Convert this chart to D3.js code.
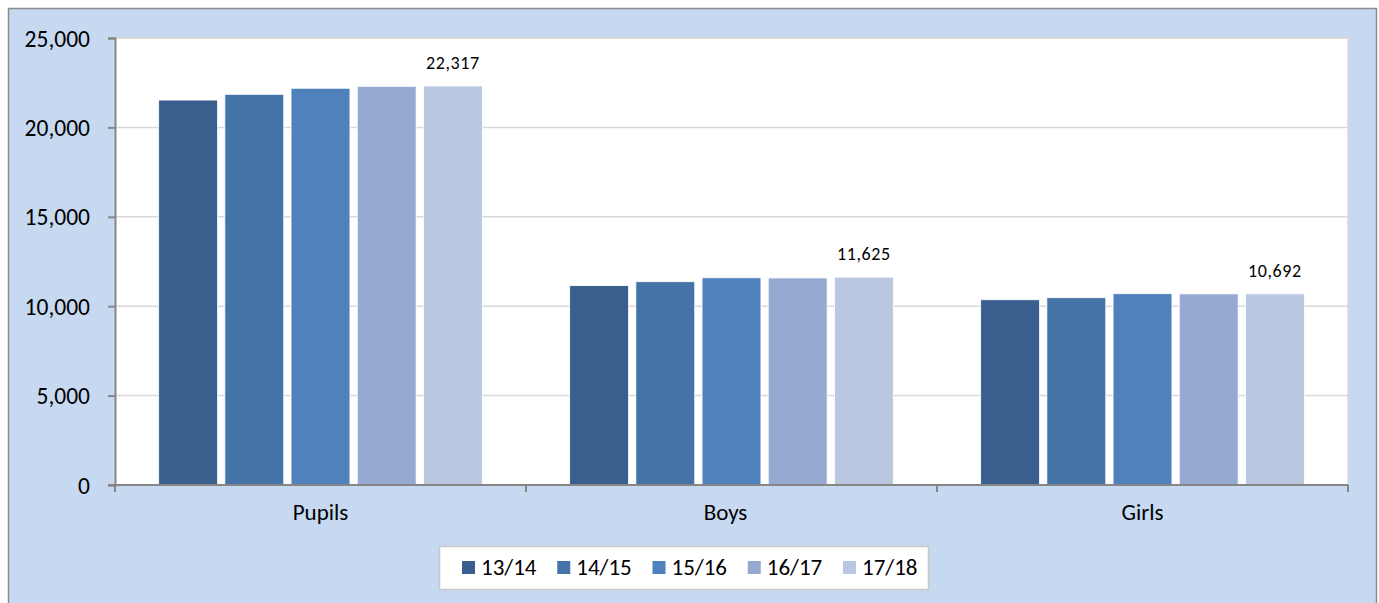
<!DOCTYPE html>
<html><head><meta charset="utf-8">
<script src="https://cdn.jsdelivr.net/npm/d3@7"></script>
<style>
body{margin:0;background:#fff;}
svg{display:block;font-family:Carlito,Lato,"Liberation Sans",sans-serif;}
</style></head>
<body><svg id="c" width="1379" height="603"></svg>
<script>
const categories = ["Pupils","Boys","Girls"];
const seriesNames = ["13/14","14/15","15/16","16/17","17/18"];
const v1314 = [21530, 11150, 10360];
const v1415 = [21850, 11370, 10475];
const v1516 = [22190, 11590, 10700];
const v1617 = [22300, 11580, 10690];
const v1718 = [22317, 11625, 10692];
const yTicks = [0,5000,10000,15000,20000,25000];
const colors = ["#3A5F8F","#4473A7","#4F81BD","#95A9D1","#BAC7E0"];
const seriesValues = [v1314,v1415,v1516,v1617,v1718];

const svg = d3.select("#c");
svg.append("rect").attr("x",8.5).attr("y",8.5).attr("width",1368).attr("height",600)
  .attr("fill","#C6D9F1").attr("stroke","#8C8C8C").attr("stroke-width",1.5);

const L=115, R=1348, T=38, B=485;
svg.append("rect").attr("x",L).attr("y",T).attr("width",R-L).attr("height",B-T)
  .attr("fill","#fff").attr("stroke","#D9D9D9").attr("stroke-width",1.5);

const y = d3.scaleLinear().domain([0,25000]).range([B,T]);
const x0 = d3.scaleBand().domain(categories).range([L,R]).paddingInner(0).paddingOuter(0);
const x1 = d3.scaleBand().domain(seriesNames).range([0,x0.bandwidth()]).paddingInner(0.11).paddingOuter(0.66);

// gridlines
svg.append("g").selectAll("line").data(yTicks.filter(d=>d>0)).join("line")
  .attr("x1",L).attr("x2",R).attr("y1",d=>y(d)).attr("y2",d=>y(d))
  .attr("stroke","#D9D9D9").attr("stroke-width",1.5);

// bars
const g = svg.append("g");
seriesNames.forEach((s,si)=>{
  g.append("g").selectAll("rect").data(categories).join("rect")
    .attr("x",c=>x0(c)+x1(s)).attr("width",x1.bandwidth())
    .attr("y",(c,ci)=>y(seriesValues[si][ci]))
    .attr("height",(c,ci)=>B-y(seriesValues[si][ci]))
    .attr("fill",colors[si]).attr("stroke","#fff").attr("stroke-width",0.8);
});

// data labels on last series
svg.append("g").selectAll("text").data(categories).join("text")
  .attr("x",c=>x0(c)+x1("17/18")+x1.bandwidth()/2)
  .attr("y",(c,ci)=>y(v1718[ci])-17)
  .attr("text-anchor","middle").attr("font-size",18).attr("letter-spacing",0.6).attr("fill","#000")
  .text((c,ci)=>d3.format(",")(v1718[ci]));

// y axis
const yAxis = d3.axisLeft(y).tickValues(yTicks).tickSize(7).tickPadding(18).tickFormat(d3.format(","));
const ya = svg.append("g").attr("transform",`translate(${L},0)`).call(yAxis);
ya.select(".domain").attr("stroke","#868686").attr("stroke-width",2);
ya.selectAll(".tick line").attr("stroke","#868686").attr("stroke-width",2);
ya.selectAll("text").attr("font-size",23.5).attr("dy","0.34em").attr("fill","#000").attr("font-family","Carlito,Lato,'Liberation Sans',sans-serif");

// x axis
const xa = svg.append("g").attr("transform",`translate(0,${B})`);
xa.append("line").attr("x1",L-7).attr("x2",R).attr("y1",0).attr("y2",0).attr("stroke","#868686").attr("stroke-width",2);
const bounds = [L].concat(categories.map(c=>x0(c)+x0.bandwidth()));
xa.selectAll("line.tk").data(bounds).join("line").attr("class","tk")
  .attr("x1",d=>d).attr("x2",d=>d).attr("y1",0).attr("y2",7).attr("stroke","#868686").attr("stroke-width",2);
xa.selectAll("text").data(categories).join("text")
  .attr("x",c=>x0(c)+x0.bandwidth()/2-(c==="Boys"?6:0)).attr("y",35)
  .attr("text-anchor","middle").attr("font-size",23).attr("fill","#000").text(c=>c);

// legend
const lg = svg.append("g");
lg.append("rect").attr("x",439.5).attr("y",546.5).attr("width",489).attr("height",43)
  .attr("fill","#fff").attr("stroke","#C8C8C8").attr("stroke-width",1.5);
const lx = d3.scalePoint().domain(seriesNames).range([462,843]);
const items = lg.selectAll("g").data(seriesNames).join("g").attr("transform",d=>`translate(${lx(d)},0)`);
items.append("rect").attr("x",0).attr("y",561).attr("width",13).attr("height",13).attr("fill",(d,i)=>colors[i]);
items.append("text").attr("x",19).attr("y",575).attr("font-size",23).attr("fill","#000").text(d=>d);
</script></body></html>
